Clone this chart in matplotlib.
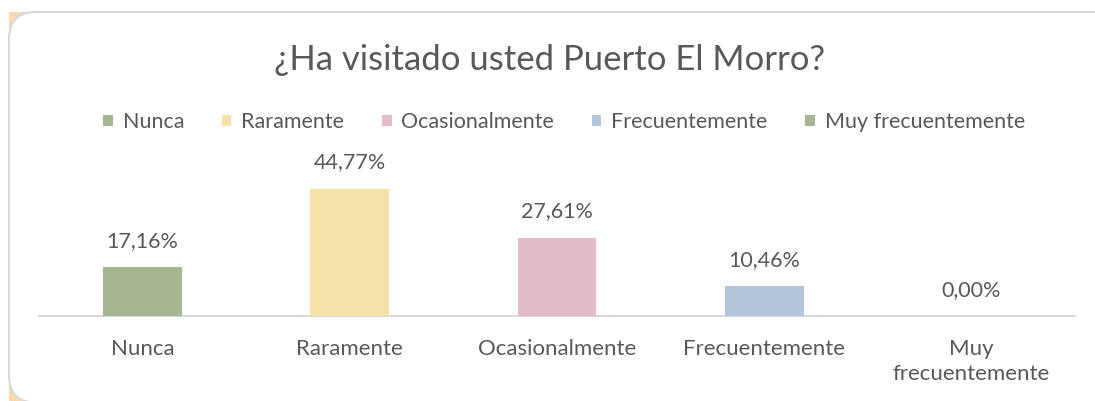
import matplotlib
matplotlib.use("Agg")
import matplotlib.pyplot as plt
from matplotlib.patches import FancyBboxPatch, Rectangle, Patch

categories = ["Nunca", "Raramente", "Ocasionalmente", "Frecuentemente", "Muy frecuentemente"]
tick_labels = ["Nunca", "Raramente", "Ocasionalmente", "Frecuentemente", "Muy\nfrecuentemente"]
values = [17.16, 44.77, 27.61, 10.46, 0.00]
colors = ["#A6B592", "#F4E2A8", "#E4BBC9", "#B3C5DA", "#A6B592"]
title = "¿Ha visitado usted Puerto El Morro?"

plt.rcParams['font.family'] = ['Lato', 'DejaVu Sans']
TXT = "#595959"

W, H = 1095, 401
fig = plt.figure(figsize=(W / 100, H / 100), dpi=100)
fig.patch.set_facecolor("white")

# background card in pixel coordinates
bg = fig.add_axes([0, 0, 1, 1])
bg.set_xlim(0, W)
bg.set_ylim(H, 0)
bg.axis("off")
bg.set_zorder(0)
bg.add_patch(Rectangle((9, 12), 1120, 395, facecolor="#FAD9AE", edgecolor="none"))
bg.add_patch(FancyBboxPatch((9, 12), 1110, 390.5,
                            boxstyle="round,pad=0,rounding_size=27",
                            facecolor="white", edgecolor="#D9D9D9", linewidth=1.5))

# axes: x from 39 to 1075 px, baseline at y=316 px from top
ax_left, ax_right = 39, 1075
base = 316
pxper = 2.84
ymax = 50
ax_h = ymax * pxper
ax = fig.add_axes([ax_left / W, (H - base) / H, (ax_right - ax_left) / W, ax_h / H])
ax.set_facecolor("none")
ax.set_zorder(2)

x = list(range(len(categories)))
ax.bar(x, values, width=0.38, color=colors, zorder=3)
ax.set_xlim(-0.5, len(categories) - 0.5)
ax.set_ylim(0, ymax)

for xi, v in zip(x, values):
    ax.annotate(f"{v:.2f}%".replace(".", ","), (xi, v), xytext=(0, 19),
                textcoords="offset points", ha="center", va="center",
                fontsize=15.5, color=TXT)

for s in ["top", "right", "left"]:
    ax.spines[s].set_visible(False)
ax.spines["bottom"].set_color("#D9D9D9")
ax.spines["bottom"].set_linewidth(1.5)
ax.set_yticks([])
ax.set_xticks(x)
ax.set_xticklabels(tick_labels, fontsize=16, color=TXT, linespacing=1.3)
ax.tick_params(axis="x", length=0, pad=16.5)

fig.text(550 / W, 1 - 60 / H, title, ha="center", va="center", fontsize=25, color=TXT)

handles = [Patch(facecolor=c, edgecolor="none") for c in colors]
leg = fig.legend(handles, categories, loc="center", bbox_to_anchor=(564 / W, 1 - 122 / H),
                 ncol=5, frameon=False, fontsize=15.5, labelcolor=TXT,
                 handlelength=0.45, handleheight=0.45, handletextpad=0.45,
                 columnspacing=1.75)

fig.savefig("out.png", dpi=100)
